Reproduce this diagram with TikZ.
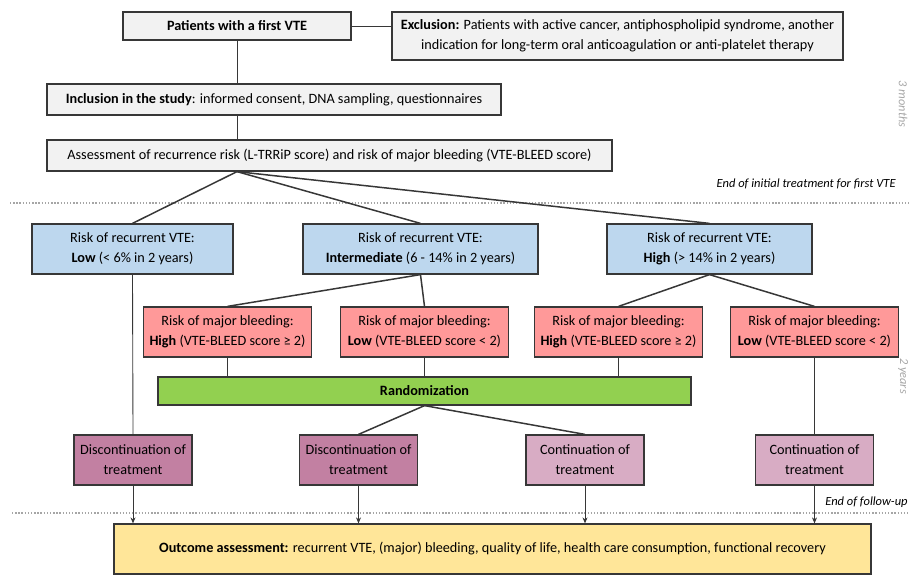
\documentclass[tikz,border=0pt]{standalone}
\usepackage{fontspec}
\setmainfont{Carlito}
\usepackage{tikz}
\usetikzlibrary{arrows.meta,positioning}
\definecolor{lineD}{RGB}{55,55,55}
\definecolor{greyF}{RGB}{242,242,242}
\definecolor{blueF}{RGB}{189,215,238}
\definecolor{redF}{RGB}{255,153,153}
\definecolor{greenF}{RGB}{146,208,80}
\definecolor{mauveD}{RGB}{194,128,162}
\definecolor{mauveL}{RGB}{216,172,196}
\definecolor{yellowF}{RGB}{255,230,153}
\definecolor{sideG}{RGB}{166,166,166}

\begin{document}
\begin{tikzpicture}[
  x=0.02cm, y=-0.02cm,
  every node/.style={font=\fontsize{8.1}{11.4}\selectfont},
  box/.style={rectangle, draw=lineD, line width=0.7pt, inner sep=0pt, align=center},
  greybox/.style={box, fill=greyF, minimum height=0.62cm},
  riskbox/.style={box, fill=blueF, minimum height=1.0cm},
  bleedbox/.style={box, fill=redF, minimum height=1.0cm, minimum width=3.36cm},
  randbox/.style={box, fill=greenF, minimum height=0.56cm, minimum width=10.66cm},
  stopbox/.style={box, fill=mauveD, minimum height=1.0cm, minimum width=2.36cm},
  gobox/.style={box, fill=mauveL, minimum height=1.0cm, minimum width=2.36cm},
  outbox/.style={box, fill=yellowF, minimum height=1.0cm, minimum width=15.14cm},
  link/.style={draw=lineD, line width=0.85pt},
  thin link/.style={draw=lineD, line width=0.5pt},
  flow/.style={draw=lineD, line width=0.5pt, -{Stealth[length=1.2mm,width=1mm]}},
  period/.style={draw=sideG, line width=1pt, dash pattern=on 0.8pt off 1pt},
  milestone/.style={font=\fontsize{7.1}{8}\selectfont\itshape, anchor=east, inner sep=0pt},
  duration/.style={font=\fontsize{7}{8}\selectfont\itshape, text=sideG, rotate=-90, inner sep=0pt}]

  \useasboundingbox (0,0) rectangle (909,575);

  % inclusion part
  \node[greybox, line width=1pt, minimum width=4.56cm, minimum height=0.56cm] (pat) at (237,26) {\textbf{Patients with a first VTE}};
  \node[greybox, minimum width=9.02cm, minimum height=0.96cm] (exc) at (617.5,36)
    {\textbf{Exclusion:} Patients with active cancer, antiphospholipid syndrome, another\\ indication for long-term oral anticoagulation or anti-platelet therapy};
  \node[greybox, minimum width=9.08cm] (inc) at (274,99.5) {\textbf{Inclusion in the study}: informed consent, DNA sampling, questionnaires};
  \node[greybox, minimum width=11.3cm] (ass) at (329.5,155.5) {Assessment of recurrence risk (L-TRRiP score) and risk of major bleeding (VTE-BLEED score)};
  \draw[thin link] (pat.east) -- (pat.east -| exc.west);
  \draw[thin link] (pat.south) -- (pat.south |- inc.north);
  \draw[thin link] (pat.south |- inc.south) -- (pat.south |- ass.north);
  \coordinate (fan) at (pat.south |- ass.south);

  % time lines
  \coordinate (l1) at (10,203); \coordinate (r1) at (909,203);
  \coordinate (l2) at (12,513); \coordinate (r2) at (909,513);
  \draw[period] (l1) -- (r1);
  \draw[period] (l2) -- (r2);
  \node[milestone] (endinit) at (896,184) {End of initial treatment for first VTE};
  \node[milestone] (endfu) at (908,502) {End of follow-up};
  \node[duration] (months) at (903,104) {3 months};
  \node[duration] (years) at (903,376) {2 years};

  % recurrence risk
  \node[riskbox, minimum width=4.02cm] (rlow) at (132.5,249) {Risk of recurrent VTE:\\ \textbf{Low} (< 6\% in 2 years)};
  \node[riskbox, minimum width=4.7cm] (rint) at (420.5,249) {Risk of recurrent VTE:\\ \textbf{Intermediate} (6 - 14\% in 2 years)};
  \node[riskbox, minimum width=4.1cm] (rhigh) at (709.5,249) {Risk of recurrent VTE:\\ \textbf{High} (> 14\% in 2 years)};
  \draw[link] (fan) -- (rlow.north);
  \draw[link] (fan) -- (rint.north);
  \draw[link] (fan) -- (rhigh.north);

  % bleeding risk
  \node[bleedbox] (bint1) at (227.5,332) {Risk of major bleeding:\\ \textbf{High} (VTE-BLEED score ≥ 2)};
  \node[bleedbox] (bint2) at (424.5,332) {Risk of major bleeding:\\ \textbf{Low} (VTE-BLEED score < 2)};
  \node[bleedbox] (bhigh1) at (618.5,332) {Risk of major bleeding:\\ \textbf{High} (VTE-BLEED score ≥ 2)};
  \node[bleedbox] (bhigh2) at (814.5,332) {Risk of major bleeding:\\ \textbf{Low} (VTE-BLEED score < 2)};
  \draw[link] (rint.south) -- (bint1.north);
  \draw[link] (rint.south) -- (bint2.north);
  \draw[link] (rhigh.south) -- (bhigh1.north);
  \draw[link] (rhigh.south) -- (bhigh2.north);

  % randomization
  \node[randbox] (rand) at (424.5,391) {\textbf{Randomization}};
  \foreach \b in {bint1,bint2,bhigh1}
    \draw[thin link] (\b.south) -- (\b.south |- rand.north);

  % treatment
  \node[stopbox] (stop1) at (133,460) {Discontinuation of\\ treatment};
  \node[stopbox] (stop2) at (358.5,460) {Discontinuation of\\ treatment};
  \node[gobox] (go1) at (585,460) {Continuation of\\ treatment};
  \node[gobox] (go2) at (814.5,460) {Continuation of\\ treatment};
  \draw[thin link] (rlow.south) -- (stop1.north);
  \draw[thin link] (bhigh2.south) -- (go2.north);
  \draw[link] (rand.south) -- (stop2.north);
  \draw[link] (rand.south) -- (go1.north);

  % outcome
  \node[outbox] (out) at (492.5,549) {\textbf{Outcome assessment:} recurrent VTE, (major) bleeding, quality of life, health care consumption, functional recovery};
  \foreach \t in {stop1,stop2,go1,go2}
    \draw[flow] (\t.south) -- (\t.south |- out.north);
\end{tikzpicture}
\end{document}
